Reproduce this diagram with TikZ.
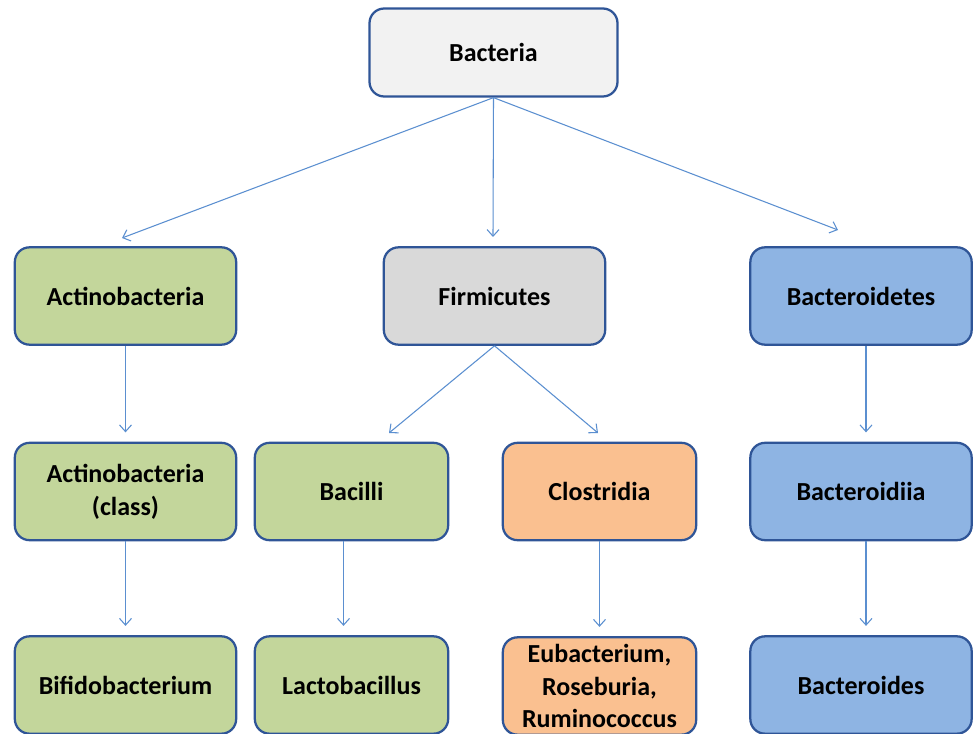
\documentclass[tikz,border=0pt]{standalone}
\usepackage{fontspec}
\setmainfont{Carlito}
\usetikzlibrary{arrows.meta}
\definecolor{bord}{HTML}{2F5597}
\definecolor{arr}{HTML}{5B8FD0}
\definecolor{cwhite}{HTML}{F2F2F2}
\definecolor{cgreen}{HTML}{C3D69B}
\definecolor{cgrey}{HTML}{D9D9D9}
\definecolor{cblue}{HTML}{8EB4E3}
\definecolor{corange}{HTML}{FAC090}
\tikzset{
  box/.style={draw=bord, line width=1.7pt, rounded corners=11pt, align=center,
    font=\bfseries\fontsize{19.5}{24.5}\selectfont, text=black, inner sep=0pt},
  wbox/.style={box, minimum width=186pt, minimum height=66pt},
  nbox/.style={box, minimum width=166pt, minimum height=73pt},
  sbox/.style={box, minimum width=145pt, minimum height=73pt},
  conn/.style={draw=arr, line width=0.8pt, -{Straight Barb[length=5pt,width=9pt,line width=0.8pt]}}
}
\begin{document}
\begin{tikzpicture}[x=0.75pt,y=-0.75pt]
\useasboundingbox (0,0) rectangle (975,734);
\node[wbox, fill=cwhite] (bact) at (493.5,52.5) {Bacteria};
\node[nbox, fill=cgreen] (actp) at (125.5,296) {Actinobacteria};
\node[nbox, fill=cgrey] (firm) at (494.5,296) {Firmicutes};
\node[nbox, fill=cblue] (bactp) at (861,296) {Bacteroidetes};
\node[nbox, fill=cgreen] (actc) at (125.5,491.5) {Actinobacteria\\(class)};
\node[sbox, fill=cgreen] (baci) at (351.5,491.5) {Bacilli};
\node[sbox, fill=corange] (clos) at (599.5,491.5) {Clostridia};
\node[nbox, fill=cblue] (bacc) at (861,491.5) {Bacteroidiia};
\node[nbox, fill=cgreen] (bifi) at (125.5,685) {Bifidobacterium};
\node[sbox, fill=cgreen] (lact) at (351.5,685) {Lactobacillus};
\node[sbox, fill=corange] (eub) at (599.5,686) {Eubacterium,\\Roseburia,\\Ruminococcus};
\node[nbox, fill=cblue] (bacs) at (861,685) {Bacteroides};
\coordinate (e1) at (122,238);
\coordinate (e2) at (493,237);
\coordinate (e3) at (838,230);
\coordinate (f1) at (389,433);
\coordinate (f2) at (598,433);
\draw[conn] (bact.south) -- (e1);
\draw[conn] (bact.south) -- (e2);
\draw[conn] (bact.south) -- (e3);
\draw[conn] (firm.south) -- (f1);
\draw[conn] (firm.south) -- (f2);
\draw[conn] (actp.south) -- ([yshift=7pt]actc.north);
\draw[conn] ([xshift=3.75pt]bactp.south) -- ([xshift=3.75pt,yshift=7pt]bacc.north);
\draw[conn] (actc.south) -- ([yshift=7pt]bifi.north);
\draw[conn] ([xshift=3.75pt]bacc.south) -- ([xshift=3.75pt,yshift=7pt]bacs.north);
\draw[conn] ([xshift=-6pt]baci.south) -- ([xshift=-6pt,yshift=7pt]lact.north);
\draw[conn] (clos.south) -- ([yshift=7pt]eub.north);
\end{tikzpicture}
\end{document}
